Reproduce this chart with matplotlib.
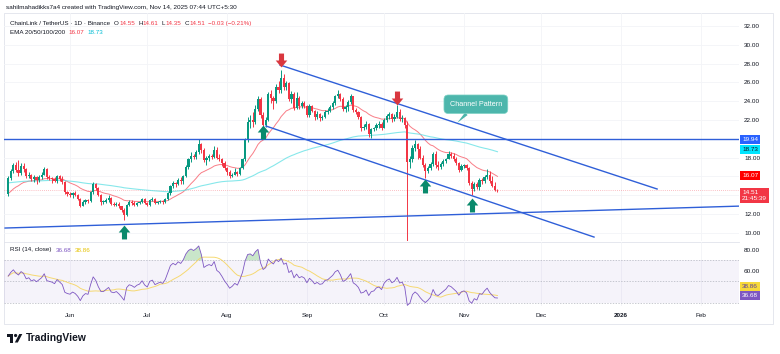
import matplotlib
matplotlib.use("Agg")
import matplotlib.pyplot as plt
import matplotlib.dates as mdates
from matplotlib.path import Path
from matplotlib.patches import Rectangle, Circle, Polygon
from matplotlib.transforms import blended_transform_factory
import numpy as np
import pandas as pd

plt.rcParams['font.family'] = ['Liberation Sans', 'DejaVu Sans']

W, H = 780, 354

# ---- data (LINK/USDT daily, Binance) ----
start = "2025-05-08"
first_open = 14.1
closes = [15.8, 16.6, 17.2, 16.7, 16.4, 17.1, 16.8, 16.0, 16.2, 15.7, 15.9, 15.6,
          15.9, 16.2, 16.8, 15.9, 15.8, 15.7, 15.5, 16.0, 15.7, 15.4, 14.3, 14.1,
          # Jun
          14.0, 14.2, 14.0, 13.6, 12.9, 13.3, 13.5, 13.4, 14.3, 15.2, 14.8, 14.0,
          13.3, 13.3, 13.5, 13.7, 13.1, 13.0, 13.1, 12.8, 12.4, 11.9, 13.0, 13.3,
          13.2, 13.0, 13.2, 13.3, 13.6, 13.2,
          # Jul
          13.0, 13.5, 13.6, 13.2, 13.3, 13.4, 13.3, 13.6, 14.2, 15.0, 15.3, 15.2,
          15.6, 15.5, 16.0, 17.0, 17.8, 18.2, 18.1, 18.6, 19.4, 18.8, 17.7, 18.0,
          18.2, 18.1, 18.8, 18.0, 17.8, 17.4, 16.9,
          # Aug
          16.5, 16.0, 16.2, 16.5, 16.3, 16.9, 17.8, 19.9, 21.8, 22.0, 21.8, 23.2,
          24.2, 22.5, 21.5, 22.0, 24.8, 24.3, 24.0, 25.5, 25.2, 26.5, 25.5, 25.9,
          24.2, 24.8, 23.3, 24.3, 23.5, 23.8, 23.5,
          # Sep
          22.5, 23.5, 23.0, 22.3, 22.6, 22.2, 22.3, 22.9, 23.0, 23.4, 23.8, 24.5,
          24.8, 24.2, 23.2, 23.4, 23.9, 24.5, 23.1, 22.8, 22.3, 21.2, 21.3, 21.6,
          20.5, 21.0, 21.1, 21.5, 21.6, 21.2,
          # Oct
          22.0, 22.4, 22.6, 22.1, 22.3, 22.8, 22.1, 22.2, 21.5, 17.5, 17.8, 19.0,
          19.4, 18.9, 18.0, 17.2, 16.6, 16.9, 17.3, 18.4, 17.2, 17.0, 17.3, 17.6,
          17.9, 18.4, 18.2, 17.8, 17.4, 16.7, 17.1,
          # Nov
          17.2, 16.9, 15.3, 14.7, 15.2, 14.9, 15.6, 15.5, 15.9, 16.2, 15.5, 15.0,
          14.55, 14.51]
highs = [16.0, 16.8, 17.4, 17.5, 17.7, 17.4, 17.4, 16.9, 16.5, 16.3, 16.2, 16.0,
         16.1, 16.5, 17.0, 16.9, 16.1, 15.9, 15.9, 16.2, 16.1, 16.0, 15.5, 14.5,
         14.3, 14.3, 14.4, 14.1, 13.7, 13.5, 13.6, 13.6, 14.4, 15.4, 15.3, 14.9,
         14.1, 13.5, 13.7, 14.0, 13.8, 13.3, 13.3, 13.3, 12.9, 12.6, 13.1, 13.5,
         13.5, 13.4, 13.3, 13.4, 13.7, 13.7,
         13.3, 13.6, 13.8, 13.7, 13.4, 13.5, 13.5, 13.7, 14.3, 15.1, 15.5, 15.4,
         15.8, 15.9, 16.2, 17.2, 18.0, 18.6, 18.4, 18.8, 20.0, 19.6, 19.0, 18.2,
         18.4, 18.4, 19.2, 19.1, 18.4, 18.0, 17.6,
         17.0, 16.7, 16.4, 16.9, 16.6, 17.0, 18.0, 20.1, 22.3, 22.5, 22.9, 23.6,
         24.6, 24.4, 22.8, 22.3, 25.0, 25.2, 24.6, 25.8, 26.1, 27.3, 26.9, 26.2,
         26.0, 25.1, 25.0, 25.0, 24.5, 24.0, 24.0,
         23.6, 23.7, 23.6, 23.1, 23.0, 22.7, 22.5, 23.1, 23.3, 23.6, 24.0, 24.7,
         25.2, 24.9, 24.4, 23.6, 24.1, 24.8, 24.6, 23.3, 23.0, 22.4, 21.6, 21.9,
         21.7, 21.2, 21.3, 21.7, 21.9, 21.8,
         22.2, 22.6, 22.9, 22.7, 22.6, 23.6, 23.2, 22.5, 22.3, 21.9, 18.2, 19.3,
         19.9, 19.6, 19.2, 18.3, 17.4, 17.1, 17.5, 18.6, 18.7, 17.6, 17.5, 17.8,
         18.0, 18.7, 18.6, 18.5, 18.1, 17.5, 17.3,
         17.3, 17.3, 17.0, 15.5, 15.4, 15.4, 15.8, 15.8, 16.1, 16.8, 16.6, 16.0,
         15.4, 14.61]
lows = [13.9, 15.6, 16.4, 16.5, 16.0, 16.2, 16.5, 15.8, 15.8, 15.5, 15.4, 15.2,
        15.4, 15.7, 16.1, 15.7, 15.6, 15.3, 15.4, 15.3, 15.5, 15.2, 14.1, 13.9,
        13.8, 13.7, 13.9, 13.5, 12.7, 12.8, 13.1, 13.2, 13.3, 14.1, 14.6, 13.9,
        13.0, 13.1, 13.2, 13.3, 13.0, 12.8, 12.9, 12.6, 12.2, 11.4, 11.8, 12.9,
        13.0, 12.8, 12.9, 13.1, 13.2, 13.1,
        12.8, 12.9, 13.4, 13.1, 13.1, 13.2, 13.1, 13.2, 13.5, 14.0, 14.8, 14.9,
        15.1, 15.2, 15.2, 15.9, 16.8, 17.5, 17.8, 17.9, 18.4, 18.5, 17.5, 17.2,
        17.6, 17.9, 18.0, 17.9, 17.6, 17.1, 16.7,
        16.2, 15.8, 15.9, 16.1, 16.0, 16.1, 16.8, 17.6, 19.7, 21.2, 21.3, 21.6,
        23.0, 22.2, 21.3, 21.3, 21.9, 23.8, 23.2, 23.8, 24.9, 24.9, 25.2, 25.2,
        24.0, 23.8, 23.1, 23.2, 23.2, 23.3, 23.3,
        22.3, 22.3, 22.8, 22.0, 22.1, 21.9, 22.0, 22.2, 22.6, 22.9, 23.2, 23.6,
        24.3, 24.0, 23.0, 22.9, 23.0, 23.7, 22.9, 22.6, 22.1, 20.8, 20.9, 21.0,
        20.2, 20.1, 20.8, 20.9, 21.2, 20.9,
        21.1, 21.8, 22.1, 21.8, 21.9, 22.2, 21.9, 21.8, 21.2, 8.0, 16.9, 17.5,
        18.7, 17.9, 17.8, 17.0, 15.8, 16.4, 16.7, 17.1, 16.9, 16.7, 16.8, 17.1,
        17.4, 17.8, 18.0, 17.6, 17.2, 16.5, 16.6,
        16.9, 16.7, 15.1, 14.0, 14.4, 14.7, 14.6, 15.2, 15.3, 15.7, 15.3, 14.9,
        14.4, 14.35]

# legend values shown on the chart
ema_fast_last, ema_slow_last = 16.07, 18.73
rsi_last, rsi_ma_last = 36.68, 38.86
# moving-average lengths (red = fast, cyan = slow) and their values at the first bar
ema_fast_len, ema_slow_len = 20, 100
ema_fast_start, ema_slow_start = 14.0, 15.3
rsi_seed_gain, rsi_seed_loss = 0.30, 0.35

hline_level = 19.94
channel_upper = [("2025-08-21 13:00", 27.85), ("2026-01-15 00:00", 14.66)]
channel_lower = [("2025-08-16 02:00", 21.36), ("2025-12-21 12:00", 9.55)]
support_line = [("2025-05-06 19:00", 10.51), ("2026-02-17 00:00", 12.85)]
red_arrows = [("2025-08-22", 28.4), ("2025-10-06", 24.3)]
green_arrows = [("2025-06-22", 10.1), ("2025-08-15", 20.7),
                ("2025-10-17", 15.0), ("2025-11-04", 12.95)]
callout_tip = ("2025-10-29 08:00", 21.68)

month_ticks = ["2025-06-01", "2025-07-01", "2025-08-01", "2025-09-01", "2025-10-01",
               "2025-11-01", "2025-12-01", "2026-01-01", "2026-02-01"]
month_labels = ["Jun", "Jul", "Aug", "Sep", "Oct", "Nov", "Dec", "2026", "Feb"]
price_ticks = [10, 12, 18, 22, 24, 26, 28, 30, 32]

GREEN = '#089981'
RED = '#f23645'
BLUE = '#2f5fd8'
TXT = '#131722'


def dnum(s):
    return mdates.date2num(pd.Timestamp(s))


# ---- derived series ----
dates = pd.date_range(start, periods=len(closes), freq="D")
x = mdates.date2num(dates)
opens = [first_open] + closes[:-1]


def ema(vals, span, seed):
    a = 2.0 / (span + 1)
    out, e = [], seed
    for v in vals:
        e = e + a * (v - e)
        out.append(e)
    return np.array(out)


ema_fast = ema(closes, ema_fast_len, ema_fast_start)
ema_slow = ema(closes, ema_slow_len, ema_slow_start)

diffs = np.diff([first_open] + closes)
ag, al = rsi_seed_gain, rsi_seed_loss
rsi = []
for d in diffs:
    ag = (ag * 13 + max(d, 0)) / 14
    al = (al * 13 + max(-d, 0)) / 14
    rsi.append(100 - 100 / (1 + ag / al))
rsi = np.array(rsi)
rsi_ma = pd.Series(rsi).rolling(14, min_periods=1).mean().values

# ---- figure ----
fig = plt.figure(figsize=(W / 100, H / 100), dpi=100)
fig.patch.set_facecolor('white')


def fx(px):
    return px / W


def fy(py):
    return 1 - py / H


ax = fig.add_axes([fx(4), fy(241), fx(739) - fx(4), fy(13) - fy(241)])
ax2 = fig.add_axes([fx(4), fy(306), fx(739) - fx(4), fy(242) - fy(306)], sharex=ax)
for a in (ax, ax2):
    a.set_facecolor('none')

base = dnum("2025-06-01")
ax.set_xlim(base - 25.63, base + 259.8)
ax.set_ylim(9.13, 33.38)
ax2.set_ylim(26.67, 87.6)

mt = [dnum(m) for m in month_ticks]
for a in (ax, ax2):
    for s in a.spines.values():
        s.set_visible(False)
    for v in mt:
        a.axvline(v, color='#f3f4f7', lw=0.6, zorder=0)
for p in range(10, 34, 2):
    ax.axhline(p, color='#f3f4f7', lw=0.6, zorder=0)

# candles
up = np.array(closes) >= np.array(opens)
cols = np.where(up, GREEN, RED)
ax.vlines(x, lows, highs, colors=cols, lw=0.7, zorder=3)
body = np.array(closes) - np.array(opens)
body = np.where(np.abs(body) < 0.05, 0.05, body)
ax.bar(x, body, bottom=opens, width=0.85, color=cols, lw=0, zorder=4)

# moving averages
ax.plot(x, ema_fast, color='#f7525f', lw=0.7, alpha=0.75, zorder=2)
ax.plot(x, ema_slow, color='#5fe0e4', lw=0.8, alpha=0.75, zorder=2)

# drawings
ax.axhline(hline_level, color=BLUE, lw=1.0, zorder=5)
ax.axhline(closes[-1], color=RED, lw=0.5, ls=(0, (1, 2)), alpha=0.6, zorder=1)
for line in (channel_upper, channel_lower, support_line):
    lx = [dnum(line[0][0]), dnum(line[1][0])]
    ax.plot(lx, [line[0][1], line[1][1]], color=BLUE, lw=1.0, zorder=5)

arrow_up = Path([(-0.22, -0.6), (0.22, -0.6), (0.22, 0.0), (0.5, 0.0), (0.0, 0.6),
                 (-0.5, 0.0), (-0.22, 0.0), (-0.22, -0.6)], closed=True)
arrow_dn = Path([(vx, -vy) for vx, vy in arrow_up.vertices], closed=True)
for d, p in green_arrows:
    ax.plot(dnum(d), p, marker=arrow_up, ms=10, color='#0a8a6c', mec='none', zorder=6)
for d, p in red_arrows:
    ax.plot(dnum(d), p, marker=arrow_dn, ms=10, color='#d9373f', mec='none', zorder=6)

ax.annotate("Channel Pattern",
            xy=(dnum(callout_tip[0]), callout_tip[1]),
            xytext=(13.5, 13.5), textcoords='offset points', ha='center', va='center',
            fontsize=5.2, color='white',
            bbox=dict(boxstyle='round,pad=0.8,rounding_size=0.6', fc='#4db6ac',
                      ec='#7fd3c6', lw=0.5),
            arrowprops=dict(arrowstyle='wedge,tail_width=0.5', fc='#4db6ac', ec='none',
                            shrinkA=0, shrinkB=0),
            zorder=7)

# right price scale
ax.yaxis.tick_right()
ax.set_yticks(price_ticks)
ax.set_yticklabels(["%.2f" % v for v in price_ticks])
ax.tick_params(axis='y', length=0, pad=3.6, labelsize=4.6, labelcolor=TXT)
ax.tick_params(axis='x', length=0, labelbottom=False)


def tag(a, y, text, fc, tc, dy=0):
    tr = blended_transform_factory(a.transAxes, a.transData)
    a.annotate(text, xy=(1, y), xycoords=tr, xytext=(2.2, dy), textcoords='offset points',
               ha='left', va='center', fontsize=4.6, color=tc, zorder=10,
               bbox=dict(boxstyle='square,pad=0.35', fc=fc, ec='none'),
               annotation_clip=False)


tag(ax, hline_level, "19.94", '#2962ff', 'white')
tag(ax, ema_slow_last, "%.2f" % ema_slow_last, '#00e5ff', TXT, dy=0.8)
tag(ax, ema_fast_last, "%.2f" % ema_fast_last, '#ff0000', 'white')
tag(ax, closes[-1], "%.2f\n21:45:39" % closes[-1], RED, 'white', dy=-3.5)

# RSI panel
ax2.axhspan(30, 70, color='#7e57c2', alpha=0.07, lw=0)
for lv in (70, 50, 30):
    ax2.axhline(lv, color='#b2b5be', lw=0.5, ls=(0, (2, 2)))
ax2.fill_between(x, 70, rsi, where=rsi > 70, interpolate=True, color='#4caf50', alpha=0.3, lw=0)
ax2.plot(x, rsi_ma, color='#f5d45a', lw=0.7, alpha=0.85)
ax2.plot(x, rsi, color='#7e57c2', lw=0.6)
ax2.yaxis.tick_right()
ax2.set_yticks([60, 80])
ax2.set_yticklabels(["60.00", "80.00"])
ax2.tick_params(axis='y', length=0, pad=3.6, labelsize=4.6, labelcolor=TXT)
tag(ax2, rsi_last, "%.2f" % rsi_last, '#7e57c2', 'white')
tag(ax2, rsi_last, "%.2f" % rsi_ma_last, '#f7d93a', '#5b3fa0', dy=6.5)

ax2.set_xticks(mt)
ax2.set_xticklabels(month_labels)
ax2.tick_params(axis='x', length=0, pad=5, labelsize=4.6, labelcolor=TXT)
for lab in ax2.get_xticklabels():
    if lab.get_text() == "2026":
        lab.set_fontweight('bold')

# overlay for header, frame, logo
ov = fig.add_axes([0, 0, 1, 1], zorder=-1)
ov.set_xlim(0, W)
ov.set_ylim(H, 0)
ov.axis('off')
ov.add_patch(Rectangle((4, 13), 769, 311, fill=False, ec='#e0e3eb', lw=0.6))
ov.plot([4, 739], [241.5, 241.5], color='#e0e3eb', lw=0.6)

renderer = fig.canvas.get_renderer()


def text_row(x0, y0, pieces, size):
    cur = x0
    for s, c, gap in pieces:
        t = fig.text(fx(cur), fy(y0), s, fontsize=size, color=c, va='center')
        cur += t.get_window_extent(renderer).width + gap


fig.text(fx(6.5), fy(7.5), "sahilmahadikks7a4 created with TradingView.com, Nov 14, 2025 07:44 UTC+5:30",
         fontsize=4.6, color=TXT, va='center')
text_row(10, 23.3, [("ChainLink / TetherUS · 1D · Binance", TXT, 4),
                    ("O", TXT, 0.4), ("14.55", RED, 3),
                    ("H", TXT, 0.4), ("14.61", RED, 3),
                    ("L", TXT, 0.4), ("14.35", RED, 3),
                    ("C", TXT, 0.4), ("14.51", RED, 3),
                    ("−0.03 (−0.21%)", RED, 0)], 4.5)
text_row(10, 32.7, [("EMA 20/50/100/200", TXT, 3.5),
                    ("%.2f" % ema_fast_last, RED, 3.5),
                    ("%.2f" % ema_slow_last, '#00bcd4', 0)], 4.5)
text_row(10, 250, [("RSI (14, close)", TXT, 4),
                   ("%.2f" % rsi_last, '#7e57c2', 4),
                   ("%.2f" % rsi_ma_last, '#e6c200', 0)], 4.5)

# TradingView logo
lg = fig.add_axes([0, 0, 1, 1], zorder=5)
lg.set_xlim(0, W)
lg.set_ylim(H, 0)
lg.axis('off')
lg.add_patch(Rectangle((6.5, 334), 6.5, 3, color=TXT, lw=0))
lg.add_patch(Rectangle((10, 334), 3, 8.5, color=TXT, lw=0))
lg.add_patch(Circle((15.6, 335.5), 1.6, color=TXT, lw=0))
lg.add_patch(Polygon([(14.8, 342.5), (19.3, 334), (22.3, 334), (17.8, 342.5)], closed=True,
                     color=TXT, lw=0))
lg.text(26, 338, "TradingView", fontsize=7.4, fontweight='bold', color=TXT, va='center')

fig.savefig("out.png", dpi=100, facecolor='white')
